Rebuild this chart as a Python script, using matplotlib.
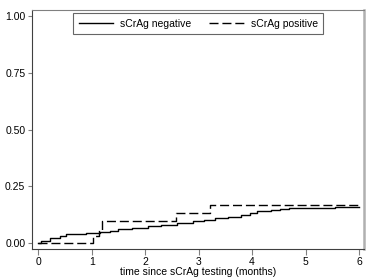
import matplotlib
matplotlib.use('Agg')
import matplotlib.pyplot as plt

# Cumulative incidence step data
neg_t = [0, 0.05, 0.22, 0.40, 0.52, 0.90, 1.15, 1.34, 1.50, 1.75, 2.05, 2.30,
         2.60, 2.90, 3.10, 3.30, 3.55, 3.80, 3.96, 4.10, 4.35, 4.52, 4.70, 5.55, 6.0]
neg_y = [0.0, 0.012, 0.025, 0.032, 0.042, 0.045, 0.050, 0.055, 0.061, 0.068, 0.077, 0.082,
         0.090, 0.097, 0.103, 0.110, 0.117, 0.125, 0.132, 0.142, 0.147, 0.150, 0.157, 0.161, 0.161]
pos_t = [0, 1.02, 1.14, 1.19, 2.57, 3.22, 6.0]
pos_y = [0.0, 0.033, 0.059, 0.100, 0.135, 0.168, 0.168]

xticks = [0, 1, 2, 3, 4, 5, 6]
yticks = [0.0, 0.25, 0.5, 0.75, 1.0]

plt.rcParams['font.family'] = ['Liberation Sans', 'DejaVu Sans']

fig = plt.figure(figsize=(3.75, 2.8), dpi=100)
ax = fig.add_axes([0.0861, 0.1107, 0.8854, 0.8525])

ax.step(neg_t, neg_y, where='post', color='black', lw=1.0, label='sCrAg negative')
ax.step(pos_t, pos_y, where='post', color='black', lw=1.0, dashes=(6.5, 2.8),
        label='sCrAg positive')

ax.set_xlim(-0.112, 6.1)
ax.set_ylim(-0.025, 1.025)
ax.set_xticks(xticks)
ax.set_yticks(yticks)
ax.set_yticklabels(['%.2f' % v for v in yticks])
ax.tick_params(axis='both', labelsize=7.5, color='#808080', pad=2)
ax.tick_params(axis='y', length=3)
ax.tick_params(axis='x', length=4)
ax.set_xlabel('time since sCrAg testing (months)', fontsize=7.5, labelpad=0)

for side in ['left', 'bottom']:
    ax.spines[side].set_color('#404040')
    ax.spines[side].set_linewidth(0.8)
ax.spines['top'].set_color('#808080')
ax.spines['top'].set_linewidth(0.8)
ax.spines['right'].set_color('#b0b0b0')
ax.spines['right'].set_linewidth(1.8)

leg = ax.legend(loc='upper center', ncol=2, fontsize=7.5, frameon=True, fancybox=False,
                edgecolor='#404040', borderaxespad=0.3, handlelength=3.3,
                columnspacing=1.7, handletextpad=0.7, borderpad=0.5)
leg.get_frame().set_linewidth(0.8)

fig.savefig('out.png', dpi=100)
